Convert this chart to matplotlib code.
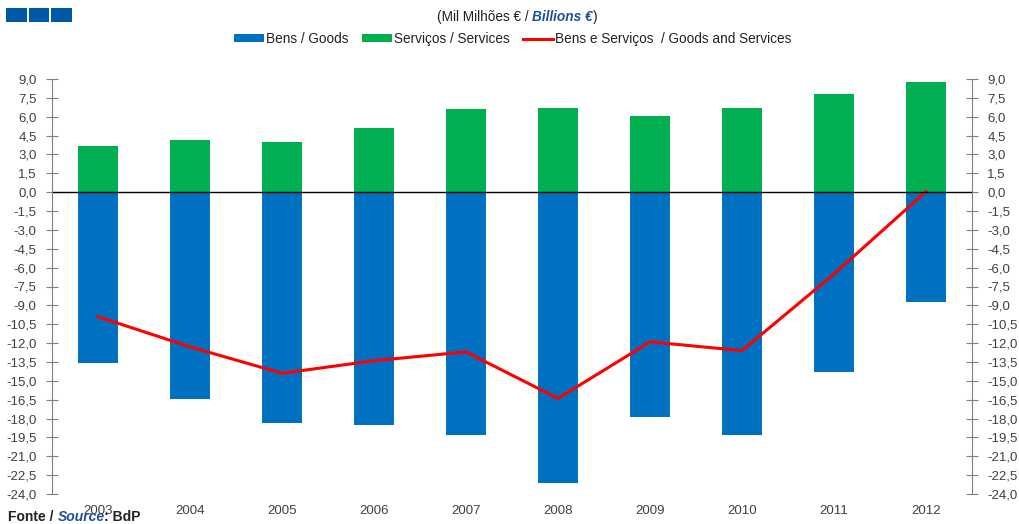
import matplotlib.pyplot as plt
from matplotlib.patches import Rectangle
import numpy as np

plt.rcParams['font.family'] = ['Liberation Sans', 'DejaVu Sans']

years = ["2003", "2004", "2005", "2006", "2007", "2008", "2009", "2010", "2011", "2012"]
goods = [-13.6, -16.45, -18.35, -18.5, -19.3, -23.1, -17.9, -19.3, -14.3, -8.7]
services = [3.66, 4.13, 3.97, 5.09, 6.6, 6.68, 6.04, 6.68, 7.79, 8.74]
total = [-9.9, -12.3, -14.4, -13.4, -12.7, -16.4, -11.9, -12.6, -6.5, 0.05]
yticks = np.arange(-24, 9.01, 1.5)

blue = "#0070C0"
green = "#00B050"
red = "#FF0000"
grey = "#404040"
dkblue = "#1F4E9C"

fig = plt.figure(figsize=(10.19, 5.24), dpi=100)
ax = fig.add_axes([52 / 1019, 1 - 494 / 524, 920 / 1019, 415 / 524])

x = np.arange(len(years))
b1 = ax.bar(x, goods, width=0.43, color=blue, label="Bens / Goods")
b2 = ax.bar(x, services, width=0.43, color=green, label="Serviços / Services")
l1, = ax.plot(x, total, color=red, lw=2.2, label="Bens e Serviços  / Goods and Services")
ax.axhline(0, color="black", lw=1)

ax.set_xlim(-0.5, len(years) - 0.5)
ax.set_ylim(-24, 9)
ax.set_yticks(yticks)
ax.set_yticklabels([("%.1f" % v).replace(".", ",") for v in yticks], color=grey, fontsize=9.5)
ax.set_xticks(x)
ax.set_xticklabels(years, color=grey, fontsize=9.5)
ax.tick_params(axis="x", length=0, pad=8)
ax.tick_params(axis="y", direction="inout", length=8, color="#808080", labelright=True, right=True, pad=7)

for s in ["top", "bottom"]:
    ax.spines[s].set_visible(False)
for s in ["left", "right"]:
    ax.spines[s].set_color("#808080")

fig.legend(handles=[b1, b2, l1], loc="center", bbox_to_anchor=(0.503, 1 - 39 / 524), ncol=3,
           frameon=False, fontsize=9.8, handlelength=2.2, handleheight=0.5, columnspacing=1.0,
           handletextpad=0.15, labelcolor="#222222")


def text_row(x0, y0, parts, ha="left"):
    # draw pieces of text next to each other, in figure pixels
    r = fig.canvas.get_renderer()
    texts = []
    xx = x0
    for s, kw in parts:
        t = fig.text(xx / 1019, 1 - y0 / 524, s, ha="left", va="center", **kw)
        w = t.get_window_extent(renderer=r).width
        texts.append(t)
        xx += w
    if ha == "center":
        shift = (xx - x0) / 2
        for t in texts:
            px, py = t.get_position()
            t.set_position((px - shift / 1019, py))


text_row(517, 17, [("(Mil Milhões € / ", dict(fontsize=9.8, color="#222222")),
                   ("Billions €", dict(fontsize=9.8, color=dkblue, style="italic", weight="bold")),
                   (")", dict(fontsize=9.8, color="#222222"))], ha="center")

for i in range(3):
    fig.patches.append(Rectangle(((6 + i * 22.5) / 1019, 1 - 22 / 524), 20.5 / 1019, 14 / 524,
                                 transform=fig.transFigure, facecolor="#0059A6", lw=0))

text_row(8, 517, [("Fonte / ", dict(fontsize=10, weight="bold", color="#222222")),
                  ("Source", dict(fontsize=10, weight="bold", style="italic", color=dkblue)),
                  (": BdP", dict(fontsize=10, weight="bold", color="#222222"))])

fig.savefig("out.png", dpi=100)
